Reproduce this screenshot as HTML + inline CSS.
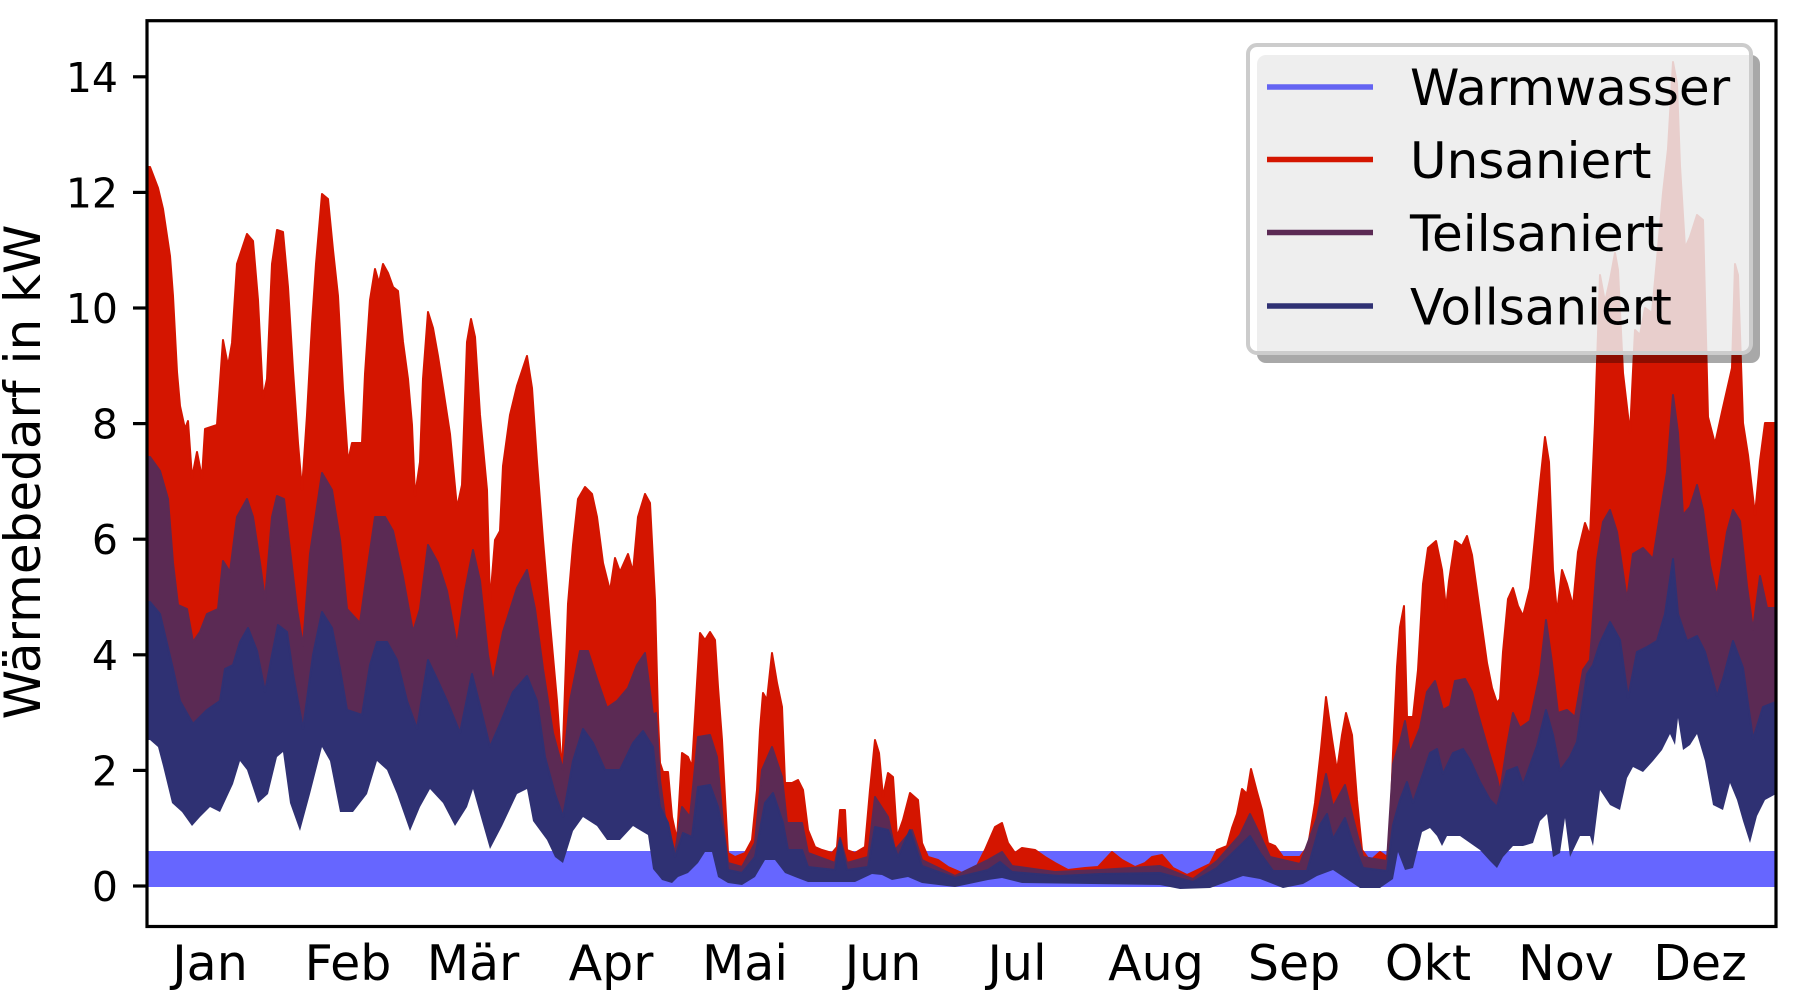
<!DOCTYPE html>
<html><head><meta charset="utf-8"><style>
html,body{margin:0;padding:0;background:#fff;}
svg{display:block;}
text{font-family:"DejaVu Sans","Liberation Sans",sans-serif;fill:#000;}
</style></head><body>
<svg width="1796" height="990" viewBox="0 0 1796 990" xmlns="http://www.w3.org/2000/svg">
<rect x="0" y="0" width="1796" height="990" fill="#fff"/>
<defs>
<clipPath id="ax"><rect x="147" y="21" width="1629" height="906"/></clipPath>
<mask id="nb" maskUnits="userSpaceOnUse" x="0" y="0" width="1796" height="990">
<polygon fill="#fff" points="147,740 150,740 158,747 163,766 172,803 182,812 192,826 200,817 210,807 220,812 233,784 240,761 247,770 258,803 268,794 277,757 283,752 290,803 300,831 310,794 322,747 330,761 340,812 353,812 367,794 377,761 387,770 397,794 410,831 420,807 430,789 443,803 455,826 467,807 473,789 482,821 490,849 502,826 517,794 527,789 533,821 547,840 555,857 563,863 573,831 583,817 597,826 607,840 620,840 633,826 648,835 653,869 658,875 662,880 672,883 678,877 688,873 698,863 705,852 712,852 718,877 728,883 742,885 755,877 765,860 775,860 785,873 795,877 808,882 855,882 872,874 882,875 892,880 908,877 922,883 955,887 988,880 1002,878 1022,883 1160,885 1180,889 1210,888 1243,876 1260,879 1283,888 1303,884 1317,876 1333,870 1360,888 1380,888 1393,879 1398,852 1405,870 1413,868 1422,832 1430,828 1437,836 1442,846 1447,836 1460,836 1470,843 1480,850 1490,861 1497,868 1503,857 1513,846 1523,846 1533,843 1540,821 1547,814 1553,857 1560,853 1565,818 1570,857 1580,836 1590,836 1593,846 1600,790 1610,805 1620,810 1627,778 1633,767 1643,772 1653,761 1662,750 1670,734 1675,745 1678,718 1683,750 1690,745 1697,734 1705,761 1713,805 1723,810 1730,783 1737,800 1743,821 1750,843 1757,816 1765,800 1776,794 1790,794 1790,0 147,0"/>
</mask>
</defs>

<g clip-path="url(#ax)">
<rect x="147" y="851" width="1629" height="36" fill="#6666ff"/>
<g mask="url(#nb)">
<polygon fill="#d41500" stroke="#d41500" stroke-width="2" stroke-linejoin="round" points="147,930 147,167 150,167 158,188 163,209 170,256 173,296 177,372 180,406 185,429 188,421 192,478 197,452 202,478 205,429 217,425 223,340 228,366 232,343 237,264 247,234 253,241 258,300 263,398 267,379 272,264 277,230 283,232 288,287 293,370 298,443 302,490 307,415 312,324 316,264 322,194 328,199 333,250 338,296 343,389 348,462 352,443 362,443 365,374 370,300 375,269 379,283 383,264 388,273 393,287 398,291 403,342 408,379 412,425 415,496 420,462 423,379 428,312 433,328 438,356 443,388 450,434 457,508 462,485 467,342 471,319 475,337 480,415 487,490 490,603 495,540 500,531 503,466 510,415 517,386 527,356 532,388 537,462 543,540 550,623 557,701 562,773 568,604 573,545 578,499 585,487 592,494 597,517 603,563 610,591 615,558 620,572 628,554 633,572 638,517 645,494 650,503 655,600 658,717 660,763 663,772 668,772 672,817 677,840 682,753 688,757 692,767 695,717 700,633 705,640 710,632 715,640 718,687 722,740 725,797 728,853 735,857 745,853 752,840 757,790 760,730 763,693 767,700 772,653 777,683 782,707 785,783 792,783 798,780 803,790 808,830 815,847 822,850 832,853 837,847 840,810 845,810 847,850 855,853 865,847 870,790 875,740 879,753 883,797 888,773 893,777 897,837 903,820 910,793 918,800 922,843 928,857 938,860 948,867 962,873 975,870 985,850 995,827 1002,823 1008,843 1015,853 1022,848 1035,850 1045,857 1055,863 1068,870 1085,868 1098,867 1112,852 1122,860 1135,867 1145,863 1152,857 1162,855 1173,868 1187,875 1210,864 1217,850 1227,846 1232,828 1237,814 1242,789 1247,794 1251,769 1257,792 1262,810 1268,843 1275,846 1283,857 1300,857 1308,846 1315,803 1321,749 1326,697 1332,739 1337,771 1342,735 1346,713 1352,735 1357,800 1362,850 1370,861 1380,852 1387,857 1390,832 1393,753 1397,667 1400,627 1404,606 1407,717 1413,717 1418,670 1423,584 1428,548 1436,541 1442,570 1446,609 1449,581 1455,541 1462,546 1467,536 1472,555 1477,591 1482,627 1487,663 1492,688 1497,703 1500,699 1503,652 1508,599 1513,588 1518,606 1523,616 1530,588 1535,537 1540,484 1545,437 1549,462 1553,570 1557,613 1562,570 1567,584 1573,606 1578,552 1585,523 1590,536 1595,422 1600,275 1605,302 1610,280 1615,253 1618,270 1623,373 1630,433 1635,330 1640,335 1645,308 1652,313 1658,248 1663,193 1668,149 1673,62 1677,84 1680,166 1685,248 1690,237 1697,215 1703,220 1708,417 1715,444 1722,412 1727,390 1732,368 1735,264 1738,275 1743,423 1748,455 1755,515 1760,461 1765,423 1770,423 1778,423 1778,930"/>
<polygon fill="#5b2a54" stroke="#5b2a54" stroke-width="2" stroke-linejoin="round" points="147,930 147,457 150,457 160,471 168,499 173,563 178,605 187,609 193,642 200,632 207,614 218,609 223,561 230,572 237,517 247,499 253,517 260,563 265,600 272,517 277,496 284,499 290,550 297,609 303,646 310,554 322,473 332,490 340,540 347,609 360,623 367,572 375,517 385,517 393,531 403,577 413,632 420,609 428,545 438,563 447,591 457,646 465,591 473,550 480,581 488,655 493,683 503,632 517,588 527,570 535,609 543,669 553,733 563,770 570,701 580,651 588,651 597,679 607,708 617,701 628,688 637,665 645,653 653,715 656,713 660,780 665,817 675,853 682,807 690,817 698,737 710,735 717,757 723,823 728,863 742,867 755,843 762,770 772,747 782,777 787,823 802,823 808,853 835,863 840,838 847,863 868,857 875,797 888,817 895,850 912,830 922,860 955,876 988,860 1002,852 1012,866 1055,872 1100,870 1160,866 1193,879 1217,861 1240,835 1250,814 1260,835 1270,857 1300,864 1317,818 1326,774 1333,807 1345,785 1353,818 1363,857 1387,861 1393,764 1400,742 1405,721 1410,753 1420,728 1427,692 1435,681 1443,710 1450,706 1455,681 1465,679 1472,692 1480,721 1488,749 1497,778 1500,792 1507,746 1513,713 1520,728 1530,721 1540,674 1546,620 1552,663 1558,713 1567,710 1575,717 1583,670 1590,660 1597,560 1603,522 1610,510 1617,532 1627,600 1633,554 1643,548 1653,559 1660,515 1667,472 1673,395 1678,433 1683,515 1690,507 1697,485 1703,510 1710,565 1717,597 1727,532 1733,510 1740,521 1747,586 1753,630 1760,576 1767,608 1778,608 1778,930"/>
<polygon fill="#2f3173" stroke="#2f3173" stroke-width="2" stroke-linejoin="round" points="147,930 147,602 150,602 160,614 173,669 180,701 193,724 207,710 220,701 225,669 233,665 240,642 248,628 257,651 265,692 272,655 278,625 287,632 293,674 303,729 313,655 322,612 332,628 340,669 347,710 362,715 370,665 377,642 387,642 397,660 407,701 417,729 428,660 437,679 447,701 460,733 472,674 480,706 490,747 500,724 513,692 527,676 537,701 545,757 555,794 563,817 573,761 583,729 593,743 605,770 620,770 633,743 643,731 653,747 656,777 660,807 668,823 675,857 683,833 692,837 698,787 710,785 718,807 725,843 728,870 742,873 755,857 765,803 773,793 783,823 788,850 802,850 808,867 835,870 840,840 847,870 868,867 875,827 888,830 898,857 910,830 922,866 955,878 988,870 1000,862 1012,872 1060,876 1100,874 1160,873 1193,882 1217,868 1243,843 1250,836 1260,853 1273,871 1307,871 1320,825 1327,814 1333,839 1345,818 1353,843 1363,868 1387,871 1393,825 1400,800 1407,782 1413,803 1423,774 1430,753 1437,749 1443,774 1453,753 1463,749 1470,760 1480,782 1490,800 1497,807 1507,771 1517,767 1523,785 1537,746 1546,710 1553,735 1560,771 1570,757 1577,742 1587,674 1593,665 1600,643 1610,622 1620,640 1628,698 1637,652 1647,647 1657,641 1665,614 1673,559 1678,614 1687,641 1697,636 1705,652 1717,696 1723,679 1733,641 1743,668 1753,739 1763,707 1778,701 1778,930"/>
</g>
</g>

<!-- legend -->
<rect x="1257" y="55" width="503" height="308" rx="9" ry="9" fill="#000" fill-opacity="0.34"/>
<rect x="1248" y="45" width="503" height="308" rx="9" ry="9" fill="#fff" fill-opacity="0.8" stroke="#cccccc" stroke-width="4"/>
<line x1="1267" y1="87" x2="1373" y2="87" stroke="#6464f2" stroke-width="5.5"/>
<line x1="1267" y1="159.5" x2="1373" y2="159.5" stroke="#d41500" stroke-width="5.5"/>
<line x1="1267" y1="232.5" x2="1373" y2="232.5" stroke="#5b2a54" stroke-width="5.5"/>
<line x1="1267" y1="306" x2="1373" y2="306" stroke="#2f3173" stroke-width="5.5"/>
<text x="1410" y="105" font-size="50">Warmwasser</text>
<text x="1410" y="178" font-size="50">Unsaniert</text>
<text x="1410" y="251" font-size="50">Teilsaniert</text>
<text x="1410" y="324.5" font-size="50">Vollsaniert</text>

<!-- axes frame -->
<rect x="147" y="20.7" width="1629" height="905.8" fill="none" stroke="#000" stroke-width="3.2"/>

<!-- y ticks -->
<g stroke="#000" stroke-width="3.2">
<line x1="133" y1="886" x2="147" y2="886"/>
<line x1="133" y1="770.4" x2="147" y2="770.4"/>
<line x1="133" y1="654.8" x2="147" y2="654.8"/>
<line x1="133" y1="539.2" x2="147" y2="539.2"/>
<line x1="133" y1="423.6" x2="147" y2="423.6"/>
<line x1="133" y1="308" x2="147" y2="308"/>
<line x1="133" y1="192.4" x2="147" y2="192.4"/>
<line x1="133" y1="76.8" x2="147" y2="76.8"/>
</g>
<g font-size="41" text-anchor="end">
<text x="118" y="901">0</text>
<text x="118" y="785.4">2</text>
<text x="118" y="669.8">4</text>
<text x="118" y="554.2">6</text>
<text x="118" y="438.6">8</text>
<text x="118" y="323">10</text>
<text x="118" y="207.4">12</text>
<text x="118" y="91.8">14</text>
</g>

<!-- x labels -->
<g font-size="49" text-anchor="middle">
<text x="210" y="980">Jan</text>
<text x="348" y="980">Feb</text>
<text x="473" y="980">Mär</text>
<text x="611" y="980">Apr</text>
<text x="745" y="980">Mai</text>
<text x="883" y="980">Jun</text>
<text x="1017" y="980">Jul</text>
<text x="1156" y="980">Aug</text>
<text x="1294" y="980">Sep</text>
<text x="1428" y="980">Okt</text>
<text x="1566" y="980">Nov</text>
<text x="1700" y="980">Dez</text>
</g>

<!-- y label -->
<text transform="translate(40,472) rotate(-90)" font-size="50" text-anchor="middle">Wärmebedarf in kW</text>
</svg>
</body></html>
